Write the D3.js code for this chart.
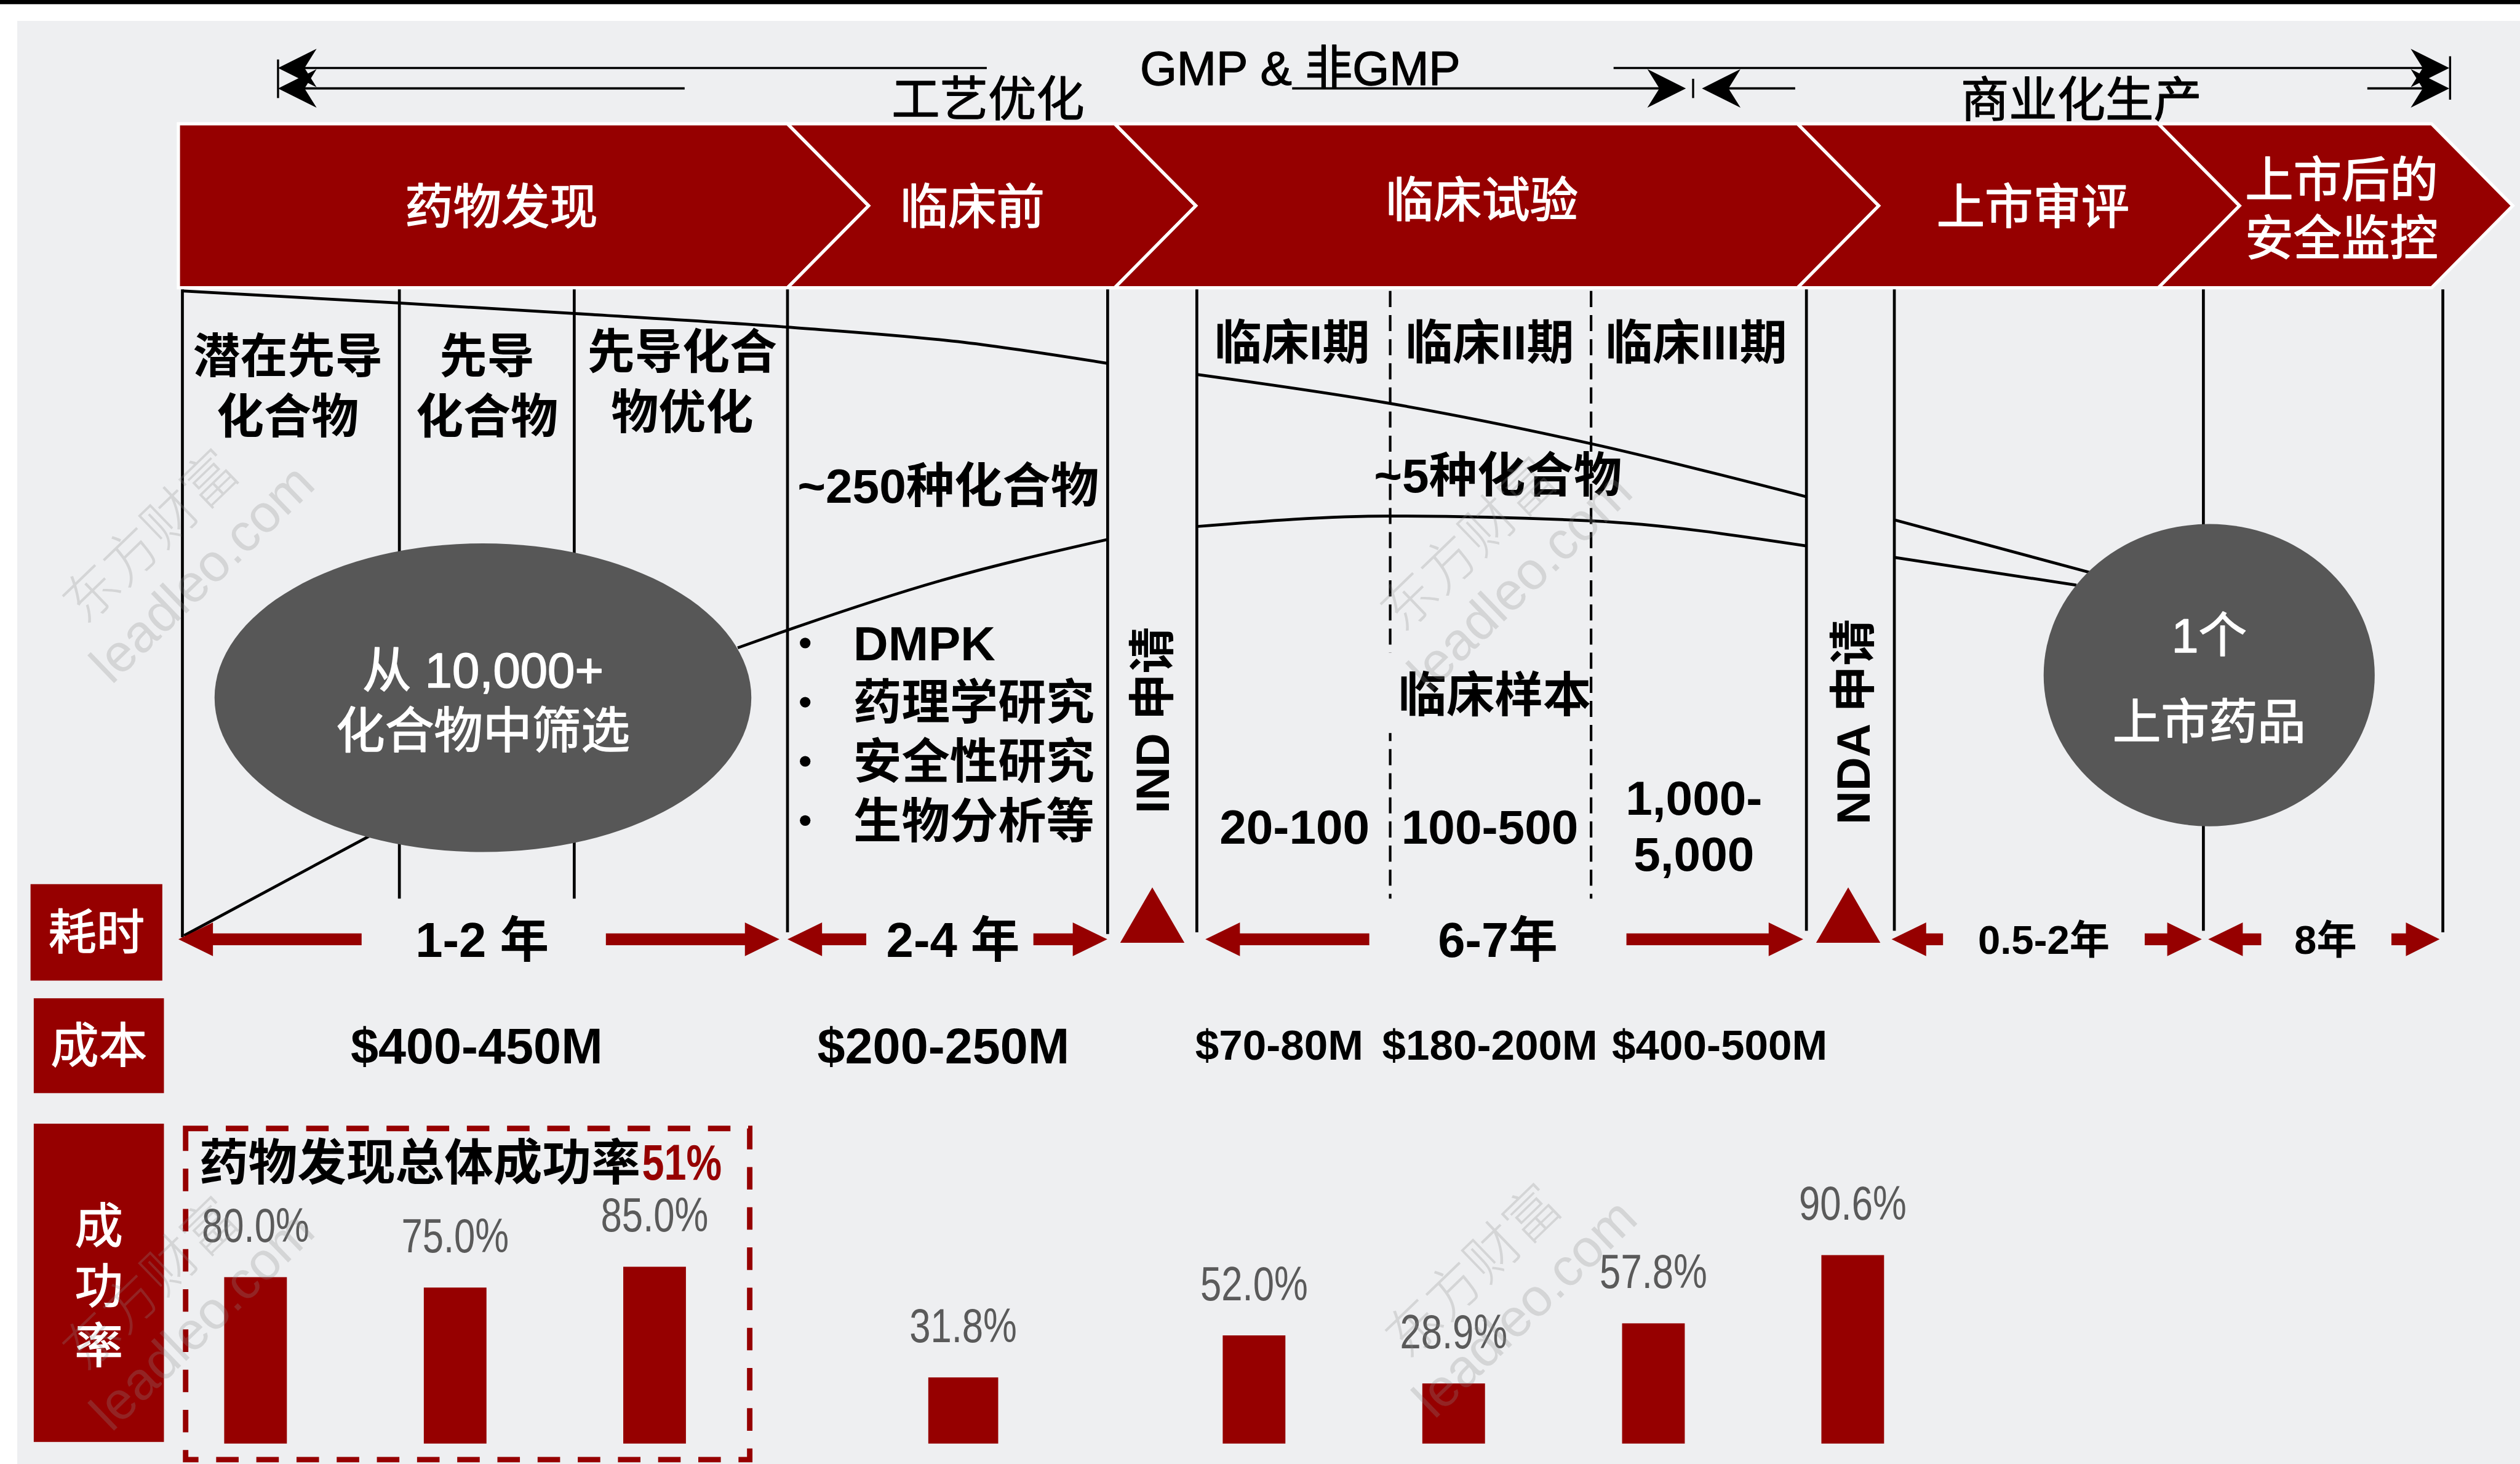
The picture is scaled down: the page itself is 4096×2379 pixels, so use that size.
<!DOCTYPE html>
<html><head><meta charset="utf-8">
<script src="https://cdn.jsdelivr.net/npm/d3@7"></script>
<style>
html,body{margin:0;padding:0;background:#fff;overflow:hidden}
svg{display:block}
</style></head><body>
<script>
// ---------- data ----------
const stageNames = ["药物发现", "临床前", "临床试验", "上市审评", "上市后的\n安全监控"];
const spanLabels = ["GMP & 非GMP", "工艺优化", "商业化生产"];
const discoverySteps = ["潜在先导\n化合物", "先导\n化合物", "先导化合\n物优化"];
const clinicalPhases = ["临床I期", "临床II期", "临床III期"];
const preclinicalWork = ["DMPK", "药理学研究", "安全性研究", "生物分析等"];
const compoundCounts = ["~250种化合物", "~5种化合物"];
const sampleSizes = ["20-100", "100-500", "1,000-\n5,000"];
const filings = ["IND 申请", "NDA 申请"];
const funnelEnds = ["从 10,000+\n化合物中筛选", "1个\n上市药品"];
const durations = ["1-2 年", "2-4 年", "6-7年", "0.5-2年", "8年"];
const costs = ["$400-450M", "$200-250M", "$70-80M", "$180-200M", "$400-500M"];
const rowLabels = ["耗时", "成本", "成功率"];
const rateSteps = ["潜在先导化合物", "先导化合物", "先导化合物优化", "临床前", "临床I期", "临床II期", "临床III期", "上市审评"];
const rateValues = [80.0, 75.0, 85.0, 31.8, 52.0, 28.9, 57.8, 90.6];
const discoveryTitle = "药物发现总体成功率";
const discoveryOverall = 51;

// ---------- layout (base units, scaled to the page) ----------
const W = 4096, H = 2379, K = W / 1568;
const RED = "#960000", BG = "#eeeff1", GREY = "#575757";
const LAT = "'Liberation Sans', 'Noto Sans CJK SC', sans-serif";
const CJK = "'Noto Sans CJK SC', 'Liberation Sans', sans-serif";

const svg = d3.select("body").append("svg")
  .attr("width", W).attr("height", H).attr("viewBox", `0 0 ${W} ${H}`);
svg.append("rect").attr("width", W).attr("height", H).attr("fill", "#fff");
const g = svg.append("g").attr("transform", `scale(${K})`);

// page frame
g.append("rect").attr("x", 0).attr("y", 0).attr("width", 1568).attr("height", 2.6).attr("fill", "#000");
g.append("rect").attr("x", 10.7).attr("y", 13).attr("width", 1568 - 10.7).attr("height", 911 - 13).attr("fill", BG);

// text helper: one text element, lines as tspans centred around (x, yc)
function label(parent, x, yc, text, o) {
  const size = o.size, lh = o.lh || size * 1.2;
  const lines = String(text).split("\n");
  const t = parent.append("text")
    .attr("text-anchor", o.anchor || "middle")
    .attr("fill", o.fill || "#000")
    .style("font-family", o.family || LAT)
    .style("font-size", size + "px")
    .style("font-weight", o.weight || "normal");
  if (o.heavy) {
    t.attr("stroke", o.fill || "#000").attr("stroke-width", o.heavy).attr("stroke-linejoin", "round");
  }
  lines.forEach((ln, i) => {
    t.append("tspan").attr("x", x)
      .attr("y", yc + (i - (lines.length - 1) / 2) * lh + 0.36 * size)
      .text(ln);
  });
  return t;
}
// horizontally condensed text (narrow face)
function narrow(parent, x, baseline, text, o) {
  const gg = parent.append("g").attr("transform", `translate(${x},${baseline}) scale(${o.sx},1)`);
  return gg.append("text").attr("x", 0).attr("y", 0)
    .attr("text-anchor", o.anchor || "middle").attr("fill", o.fill || "#000")
    .style("font-family", o.family || LAT).style("font-size", o.size + "px")
    .style("font-weight", o.weight || "normal").text(text);
}

// ---------- top span arrows ----------
const topG = g.append("g");
function stealth(tip, y, dir) {
  return `M${tip},${y} L${tip + dir * 24},${y - 12} L${tip + dir * 16.5},${y} L${tip + dir * 24},${y + 12} Z`;
}
const spans = [
  { y: 42.3, x0: 173, x1: 1524, gap: [614, 1004], tx: 809, ty: 42.3, size: 29.5 },
  { y: 55, x0: 173, x1: 1049, gap: [426, 804], tx: 614.8, ty: 61.5, size: 30 },
  { y: 55, x0: 1059, x1: 1524, gap: [1117, 1473], tx: 1295, ty: 62, size: 30 }
];
spans.forEach((s, i) => {
  [[s.x0 + 16, s.gap[0]], [s.gap[1], s.x1 - 16]].forEach(([a, b]) => {
    topG.append("line").attr("x1", a).attr("x2", b).attr("y1", s.y).attr("y2", s.y)
      .attr("stroke", "#000").attr("stroke-width", 1.4);
  });
  topG.append("path").attr("d", stealth(s.x0, s.y, 1)).attr("fill", "#000");
  topG.append("path").attr("d", stealth(s.x1, s.y, -1)).attr("fill", "#000");
  label(topG, s.tx, s.ty, spanLabels[i], { size: s.size, family: i === 0 ? LAT : CJK, heavy: 0.5 });
});
[[173, 37, 61], [1524.5, 35, 62], [1053.5, 49, 61]].forEach(([x, a, b]) => {
  topG.append("line").attr("x1", x).attr("x2", x).attr("y1", a).attr("y2", b)
    .attr("stroke", "#000").attr("stroke-width", 1.3);
});

// ---------- stage chevrons ----------
const chevX = [111, 490, 693.6, 1118.5, 1343, 1513];
const chevTextX = [312, 605, 922, 1265, 1457];
const chevTop = 77, chevBot = 179, chevMid = (chevTop + chevBot) / 2, chevD = 50.5;
const chevG = g.append("g");
stageNames.forEach((name, i) => {
  const L = chevX[i], R = chevX[i + 1];
  const pts = [[L, chevTop], [R, chevTop], [R + chevD, chevMid], [R, chevBot], [L, chevBot]];
  if (i > 0) pts.push([L + chevD, chevMid]);
  chevG.append("path").attr("d", d3.line()(pts) + "Z")
    .attr("fill", RED).attr("stroke", "#fff").attr("stroke-width", 2).attr("stroke-linejoin", "miter");
});
stageNames.forEach((name, i) => {
  label(chevG, chevTextX[i], i === 2 ? 124.5 : (i === 4 ? 130 : 128.5), name,
    { size: 30, fill: "#fff", family: CJK, lh: 36.5, heavy: 0.6 });
});

// ---------- column grid ----------
const gridG = g.append("g");
const solidCols = [[113.5, 583], [248.5, 559], [357.3, 559], [490, 580], [689.2, 581], [744.7, 580],
                   [1124, 579], [1178.7, 579], [1371, 579], [1520, 580]];
const dashCols = [[865, 559], [990, 559]];
solidCols.forEach(([x, y2]) => gridG.append("line").attr("x1", x).attr("x2", x).attr("y1", 180).attr("y2", y2)
  .attr("stroke", "#000").attr("stroke-width", 1.8));
dashCols.forEach(([x, y2]) => gridG.append("line").attr("x1", x).attr("x2", x).attr("y1", 181).attr("y2", y2)
  .attr("stroke", "#000").attr("stroke-width", 1.6).attr("stroke-dasharray", "10 5"));

// ---------- attrition funnel curves ----------
const curve = d3.line().curve(d3.curveMonotoneX);
const funnel = [
  [[113.5, 181], [248.5, 188.5], [357, 195], [490, 203.5], [600, 213], [689, 226]],
  [[745, 233], [865, 251], [990, 276], [1124, 309]],
  [[1179, 323.5], [1300, 356]],
  [[114.5, 582], [230, 520]],
  [[459, 403], [490, 392], [586, 361], [689, 335.6]],
  [[745, 327.5], [865, 321], [990, 324], [1124, 339.6]],
  [[1179, 346.8], [1292, 364]]
];
funnel.forEach(p => gridG.append("path").attr("d", curve(p)).attr("fill", "none")
  .attr("stroke", "#000").attr("stroke-width", 1.8));

// ---------- funnel end points ----------
const ends = [{ cx: 300.5, cy: 434, rx: 167, ry: 96 }, { cx: 1374.6, cy: 420, rx: 103, ry: 94 }];
ends.forEach(e => {
  g.append("ellipse").attr("cx", e.cx).attr("cy", e.cy).attr("rx", e.rx).attr("ry", e.ry).attr("fill", GREY);
});
label(g, 300.5, 435.5, funnelEnds[0], { size: 30.5, fill: "#fff", lh: 37.5, heavy: 0.6 });
label(g, 1374.6, 422, funnelEnds[1], { size: 30, fill: "#fff", lh: 54, heavy: 0.6 });

// ---------- stage detail text ----------
const txtG = g.append("g");
const discX = [179, 303, 424.5];
discoverySteps.forEach((t, i) => label(txtG, discX[i], i === 2 ? 237.5 : 240, t,
  { size: 29.5, weight: "bold", family: CJK, lh: 37.5 }));
const phaseX = [804, 927, 1055.5];
clinicalPhases.forEach((t, i) => label(txtG, phaseX[i], 213, t, { size: 29.5, weight: "bold" }));
label(txtG, 590, 302, compoundCounts[0], { size: 30, weight: "bold" });
label(txtG, 932, 295.5, compoundCounts[1], { size: 30, weight: "bold" });
preclinicalWork.forEach((t, i) => {
  const yc = 400 + i * 36.8;
  txtG.append("circle").attr("cx", 501).attr("cy", yc).attr("r", 3.3).attr("fill", "#000");
  label(txtG, 531, yc, t, { size: 30, weight: "bold", anchor: "start" });
});
txtG.append("rect").attr("x", 858).attr("y", 406).attr("width", 128).attr("height", 50).attr("fill", BG);
label(txtG, 930, 432, "临床样本", { size: 30, weight: "bold", family: CJK });
const sampleX = [805.5, 927, 1054];
sampleSizes.forEach((t, i) => label(txtG, sampleX[i], i === 2 ? 513.5 : 514, t,
  { size: 30, weight: "bold", lh: 35 }));
const filingX = [717, 1153], filingY = [448, 449];
filings.forEach((t, i) => {
  const fg = txtG.append("g").attr("transform", `translate(${filingX[i]},${filingY[i]}) rotate(-90)`);
  label(fg, 0, 0, t, { size: 29, weight: "bold" });
});

// ---------- row headers ----------
const rowBoxes = [[19, 550, 101, 610], [21, 621, 102, 680], [21, 699, 102, 897]];
rowBoxes.forEach(([x0, y0, x1, y1], i) => {
  g.append("rect").attr("x", x0).attr("y", y0).attr("width", x1 - x0).attr("height", y1 - y0).attr("fill", RED);
  if (i < 2) {
    label(g, (x0 + x1) / 2, (y0 + y1) / 2, rowLabels[i],
      { size: 30, fill: "#fff", family: CJK, heavy: 0.5 });
  } else {
    // stacked vertical label
    g.append("text").attr("x", (x0 + x1) / 2).attr("y", 803)
      .attr("text-anchor", "middle").attr("fill", "#fff")
      .attr("stroke", "#fff").attr("stroke-width", 0.5)
      .style("writing-mode", "vertical-rl").style("letter-spacing", "7.3px")
      .style("font-family", CJK).style("font-size", "30px")
      .text(rowLabels[i]);
  }
});

// ---------- duration arrows ----------
const durG = g.append("g");
const durY = 584.3;
function blockArrow(tip, tail, y, dir) {
  const hl = Math.min(21.5, Math.abs(tail - tip) * 0.7), hw = 10.5, sw = 3.7;
  const b = tip + dir * hl;
  return `M${tip},${y} L${b},${y - hw} L${b},${y - sw} L${tail},${y - sw} L${tail},${y + sw} L${b},${y + sw} L${b},${y + hw} Z`;
}
const durSpans = [[111, 225, 377, 485, 300], [490, 539, 643, 689, 593], [750, 852, 1012, 1122, 932],
                  [1177, 1209, 1334.5, 1370, 1271.7], [1374, 1407, 1488, 1518, 1447]];
const durSize = [30.5, 30.5, 30.5, 25, 25];
durations.forEach((t, i) => {
  const [lt, ltail, rtail, rt, tx] = durSpans[i];
  durG.append("path").attr("d", blockArrow(lt, ltail, durY, 1)).attr("fill", RED);
  durG.append("path").attr("d", blockArrow(rt, rtail, durY, -1)).attr("fill", RED);
  label(durG, tx, durY, t, { size: durSize[i], weight: "bold" });
});
// filing milestones
[717, 1150].forEach(cx => {
  durG.append("path").attr("d", `M${cx},552 L${cx + 20},586.5 L${cx - 20},586.5 Z`).attr("fill", RED);
});

// ---------- costs ----------
const costX = [296.6, 587, 796, 927, 1070];
const costSize = [31, 31, 26.5, 26.5, 26.5];
costs.forEach((t, i) => label(g, costX[i], i < 2 ? 650.5 : 649.5, t, { size: costSize[i], weight: "bold" }));

// ---------- success-rate bars ----------
const barG = g.append("g");
const barCenters = [159, 283.2, 407.3, 599.3, 780.3, 904.5, 1028.8, 1152.8];
const xBar = d3.scaleOrdinal().domain(rateSteps).range(barCenters);
const yRate = d3.scaleLinear().domain([0, 100]).range([898, 898 - 129.4]);
const barW = 39;
barG.selectAll("rect.bar").data(rateSteps).join("rect").attr("class", "bar")
  .attr("x", d => xBar(d) - (d === "临床前" ? 21.7 : barW / 2))
  .attr("width", d => d === "临床前" ? 43.5 : barW)
  .attr("y", (d, i) => yRate(rateValues[i]))
  .attr("height", (d, i) => yRate(0) - yRate(rateValues[i]))
  .attr("fill", RED);
rateSteps.forEach((d, i) => {
  narrow(barG, xBar(d), yRate(rateValues[i]) - 22, d3.format(".1f")(rateValues[i]) + "%",
    { size: 29.5, sx: 0.8, fill: "#5a5a5a" });
});

// discovery summary box
barG.append("rect").attr("x", 115.5).attr("y", 702).attr("width", 351).attr("height", 206)
  .attr("fill", "none").attr("stroke", RED).attr("stroke-width", 3.4).attr("stroke-dasharray", "14 11");
const title = label(barG, 124, 722.7, discoveryTitle, { size: 30.5, weight: "bold", anchor: "start", family: CJK });
const tw = title.node().getComputedTextLength();
narrow(barG, 124 + tw + 1, 722.7 + 0.36 * 30.5, discoveryOverall + "%",
  { size: 31, sx: 0.8, anchor: "start", weight: "bold", fill: RED });

// ---------- watermark ----------
const marks = [[95, 335], [915, 340], [918, 792], [95, 800]];
marks.forEach(([x, y]) => {
  const w = g.append("g").attr("transform", `translate(${x},${y}) rotate(-44)`)
    .attr("fill", "#8c8c8c").attr("opacity", 0.26);
  w.append("text").attr("x", 0).attr("y", 10).attr("text-anchor", "middle")
    .style("font-family", CJK).style("font-size", "34px").style("font-weight", 300).text("东方财富");
  w.append("text").attr("x", 7).attr("y", 48).attr("text-anchor", "middle")
    .style("font-family", LAT).style("font-size", "33px").text("leadleo.com");
});
</script>
</body></html>
